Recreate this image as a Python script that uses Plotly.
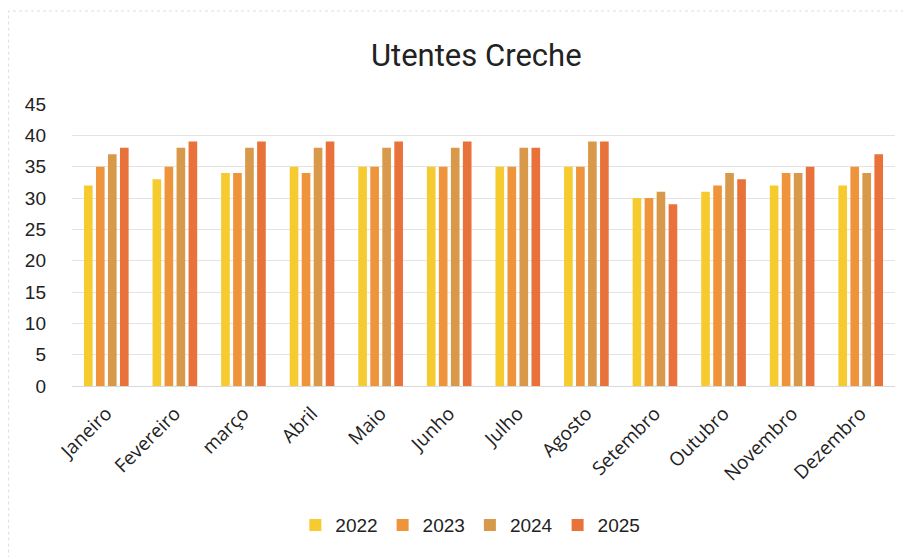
import plotly.graph_objects as go

months = ["Janeiro", "Fevereiro", "março", "Abril", "Maio", "Junho", "Julho",
          "Agosto", "Setembro", "Outubro", "Novembro", "Dezembro"]
y2022 = [32, 33, 34, 35, 35, 35, 35, 35, 30, 31, 32, 32]
y2023 = [35, 35, 34, 34, 35, 35, 35, 35, 30, 32, 34, 35]
y2024 = [37, 38, 38, 38, 38, 38, 38, 39, 31, 34, 34, 34]
y2025 = [38, 39, 39, 39, 39, 39, 38, 39, 29, 33, 35, 37]
series = [("2022", y2022, "#F6CB2F"), ("2023", y2023, "#F0943B"),
          ("2024", y2024, "#D8994A"), ("2025", y2025, "#E8723A")]
yticks = [0, 5, 10, 15, 20, 25, 30, 35, 40, 45]

fig = go.Figure()
for name, vals, col in series:
    fig.add_trace(go.Bar(x=months, y=vals, name=name, marker_color=col,
                         marker_line_width=0))

fig.update_layout(
    width=911, height=557,
    margin=dict(l=64, r=24, t=96, b=179),
    paper_bgcolor="white", plot_bgcolor="white",
    title=dict(text="Utentes Creche", x=0.514, xanchor="center", y=0.915, yanchor="middle",
               font=dict(family="Roboto", size=31, color="#222222")),
    barmode="group", bargap=0.30, bargroupgap=0.28,
    legend=dict(orientation="h", x=0.484, xanchor="center", y=-0.493, yanchor="middle",
                font=dict(family="Liberation Sans", size=19, color="#222222"),
                itemwidth=30, traceorder="normal"),
    xaxis=dict(tickangle=-45, tickfont=dict(family="Open Sans", size=19, color="#222222"),
               showline=True, linecolor="#d9d9d9", ticks="", automargin=False,
               ticklabelstandoff=8),
    yaxis=dict(range=[0, 45], tickvals=yticks, showgrid=True, gridcolor="#e3e3e3",
               tickfont=dict(family="Liberation Sans", size=19, color="#222222"),
               zeroline=False, ticklabelstandoff=25, automargin=False),
)
fig.add_shape(type="rect", xref="paper", yref="paper", x0=-0.077, x1=1.015, y0=-0.62, y1=1.33,
              line=dict(color="#dddddd", width=1, dash="dot"))
fig.write_html("out.html")
